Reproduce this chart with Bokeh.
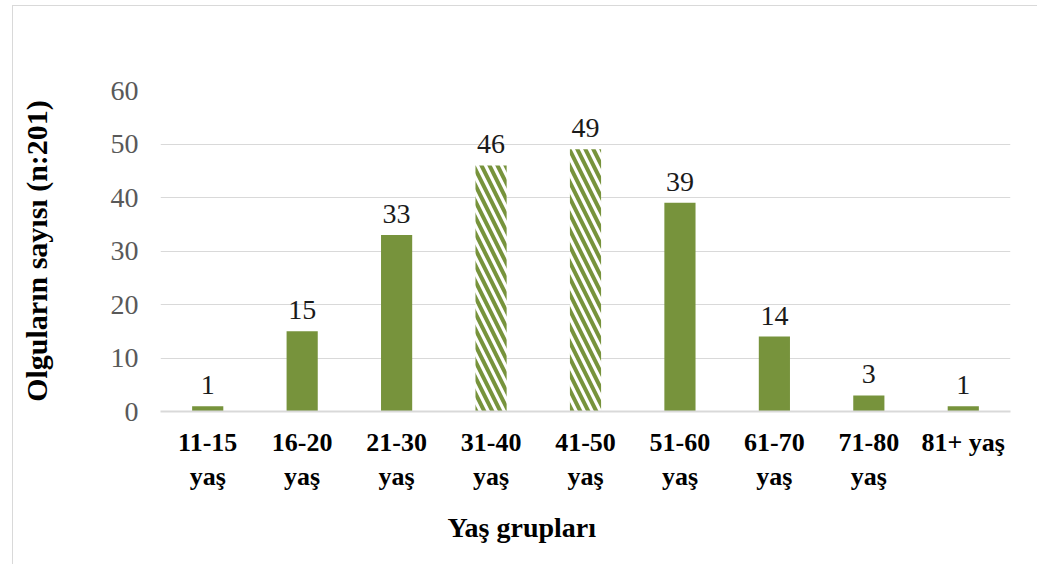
from bokeh.plotting import figure
from bokeh.models import ColumnDataSource, Range1d, Title, FactorRange
from bokeh.core.properties import value
from bokeh.embed import file_html
from bokeh.resources import INLINE

# Age groups and case counts
groups = ["11-15\nyaş", "16-20\nyaş", "21-30\nyaş", "31-40\nyaş", "41-50\nyaş",
          "51-60\nyaş", "61-70\nyaş", "71-80\nyaş", "81+ yaş"]
counts = [1, 15, 33, 46, 49, 39, 14, 3, 1]
# peak groups are drawn with a striped fill
peak = [False, False, False, True, True, False, False, False, False]

GREEN = "#77933c"
SERIF = "Liberation Serif"

solid_src = ColumnDataSource(dict(
    x=[g for g, pk in zip(groups, peak) if not pk],
    y=[c for c, pk in zip(counts, peak) if not pk]))
hatch_src = ColumnDataSource(dict(
    x=[g for g, pk in zip(groups, peak) if pk],
    y=[c for c, pk in zip(counts, peak) if pk]))
label_src = ColumnDataSource(dict(x=groups, y=counts, t=[str(c) for c in counts]))

p = figure(x_range=FactorRange(*groups, range_padding=0), y_range=Range1d(0, 60),
           width=1025, height=559, output_backend="svg", toolbar_location=None,
           min_border_left=147, min_border_right=28, min_border_top=84,
           min_border_bottom=154)
p.styles = {"border-left": "1px solid #d9d9d9", "border-top": "1px solid #d9d9d9",
            "margin-left": "12px", "margin-top": "5px"}
p.outline_line_color = None
p.background_fill_color = "white"

p.vbar(x="x", top="y", width=0.33, source=solid_src, fill_color=GREEN, line_color=None)
p.vbar(x="x", top="y", width=0.33, source=hatch_src, fill_color="white", line_color=None,
       hatch_pattern="left_diagonal_line", hatch_color=GREEN, hatch_weight=4,
       hatch_scale=16)

p.text(x="x", y="y", text="t", source=label_src, y_offset=-12,
       text_align="center", text_baseline="bottom",
       text_font=value(SERIF), text_font_size="28px", text_color="#1a1a1a")

# grid
p.xgrid.grid_line_color = None
p.ygrid.grid_line_color = "#d9d9d9"
p.ygrid.grid_line_width = 1
p.yaxis.ticker = [0, 10, 20, 30, 40, 50, 60]

# y axis
p.yaxis.axis_line_color = None
p.yaxis.major_tick_line_color = None
p.yaxis.minor_tick_line_color = None
p.yaxis.major_label_text_font = SERIF
p.yaxis.major_label_text_font_size = "28px"
p.yaxis.major_label_text_color = "#595959"
p.yaxis.major_label_standoff = 16
p.yaxis.axis_label = "Olguların sayısı (n:201)"
p.yaxis.axis_label_text_font = SERIF
p.yaxis.axis_label_text_font_style = "bold"
p.yaxis.axis_label_text_font_size = "30px"
p.yaxis.axis_label_text_color = "black"
p.yaxis.axis_label_standoff = 55

# x axis
p.xaxis.axis_line_color = "#d9d9d9"
p.xaxis.axis_line_width = 2
p.xaxis.major_tick_line_color = None
p.xaxis.minor_tick_line_color = None
p.xaxis.major_label_text_font = SERIF
p.xaxis.major_label_text_font_style = "bold"
p.xaxis.major_label_text_font_size = "26px"
p.xaxis.major_label_text_color = "black"
p.xaxis.major_label_standoff = 10

p.add_layout(Title(text="Yaş grupları", text_font=SERIF, text_font_style="bold",
                   text_font_size="28px", text_color="black", align="left",
                   offset=287, standoff=30), "below")

open("out.html", "w").write(file_html(p, INLINE))
